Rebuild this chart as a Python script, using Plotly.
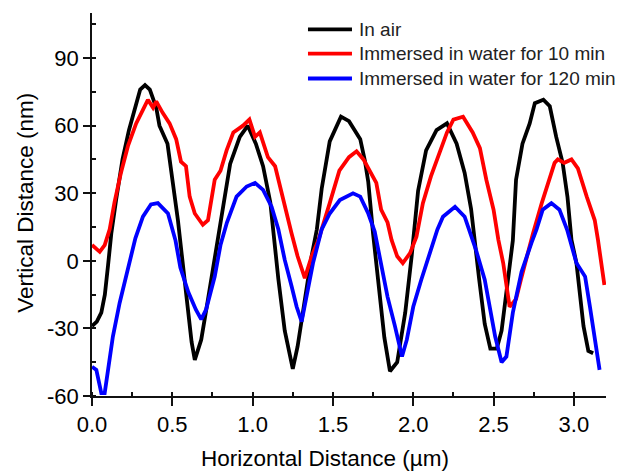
import plotly.graph_objects as go

# In air (black)
air_x = [0.00, 0.03, 0.058, 0.08, 0.10, 0.12, 0.15, 0.19, 0.23, 0.27, 0.30, 0.33, 0.36, 0.40, 0.42,
         0.47, 0.50, 0.535, 0.56, 0.59, 0.62, 0.64, 0.68, 0.72, 0.76, 0.80, 0.86, 0.92, 0.97, 1.02,
         1.065, 1.11, 1.13, 1.16, 1.20, 1.25, 1.28, 1.325, 1.367, 1.40, 1.43, 1.48, 1.55, 1.60, 1.67,
         1.70, 1.72, 1.75, 1.79, 1.82, 1.855, 1.90, 1.95, 1.99, 2.03, 2.08, 2.145, 2.21, 2.27, 2.32,
         2.36, 2.385, 2.41, 2.445, 2.48, 2.50, 2.52, 2.55, 2.59, 2.62, 2.64, 2.68, 2.725, 2.757, 2.81,
         2.85, 2.89, 2.93, 2.96, 2.985, 3.016, 3.04, 3.06, 3.09, 3.12]
air_y = [-29, -27, -23, -15, -2, 12, 27, 45, 58, 68, 76, 78, 76, 68, 60,
         52, 37, 18, 2, -17, -36, -44, -35, -18, -1, 18, 43, 55, 60, 52,
         42, 26, 12, -8, -31, -48, -38, -16, 2, 14, 32, 53, 64, 62, 54,
         44, 35, 12, -16, -34, -49, -45, -23, 2, 31, 49, 58, 61, 52, 39,
         23, 9, -8, -28, -39, -39, -39, -31, -8, 9, 36, 52, 61, 70, 71.5,
         68.6, 55, 43.5, 28.5, 9.3, -1, -16, -29, -40, -41]

# Immersed in water for 10 min (red)
w10_x = [0.0, 0.048, 0.079, 0.11, 0.14, 0.18, 0.224, 0.275, 0.317, 0.348, 0.38, 0.40, 0.44, 0.483,
         0.524, 0.554, 0.585, 0.608, 0.64, 0.69, 0.722, 0.764, 0.80, 0.838, 0.88, 0.94, 0.98, 1.015,
         1.045, 1.095, 1.14, 1.17, 1.21, 1.243, 1.28, 1.325, 1.367, 1.41, 1.48, 1.54, 1.60, 1.647,
         1.69, 1.73, 1.77, 1.80, 1.84, 1.865, 1.90, 1.935, 1.98, 2.02, 2.06, 2.11, 2.165, 2.21, 2.25,
         2.31, 2.37, 2.415, 2.455, 2.50, 2.53, 2.56, 2.60, 2.64, 2.67, 2.705, 2.745, 2.80, 2.85, 2.88,
         2.90, 2.94, 2.985, 3.025, 3.08, 3.13, 3.15, 3.17, 3.19]
w10_y = [7, 4, 7, 14, 26, 39, 51, 61, 67, 71.5, 68, 70.8, 65.7, 61,
         54, 44, 42, 28.5, 21, 16, 18, 36, 40, 49, 57, 60, 62.7, 55,
         57, 46, 42, 33, 21, 12, 2, -7.7, 2, 9.3, 25.6, 40, 46, 48.6,
         45, 40, 34.6, 22.7, 17, 9.3, 2, -1, 3.4, 10.7, 25.6, 37.5, 48, 57, 62.7,
         64, 57, 50, 36, 22.7, 9.3, -1, -20.4, -17, -8.4, 1.8, 12, 25.6, 36, 43.5,
         45, 43.5, 45, 41, 28.5, 18, 9.3, -1, -10.7]

# Immersed in water for 120 min (blue)
w120_x = [0.0, 0.027, 0.058, 0.079, 0.10, 0.13, 0.172, 0.224, 0.27, 0.317, 0.367, 0.41, 0.473, 0.52,
          0.55, 0.60, 0.647, 0.68, 0.71, 0.764, 0.80, 0.84, 0.90, 0.963, 1.015, 1.065, 1.118, 1.16,
          1.20, 1.243, 1.274, 1.305, 1.336, 1.376, 1.43, 1.48, 1.543, 1.625, 1.67, 1.72, 1.76, 1.80,
          1.84, 1.886, 1.93, 1.96, 2.0, 2.05, 2.11, 2.15, 2.185, 2.26, 2.32, 2.35, 2.39, 2.445, 2.51,
          2.55, 2.58, 2.62, 2.674, 2.736, 2.767, 2.806, 2.86, 2.91, 2.958, 3.016, 3.07, 3.10, 3.13, 3.16]
w120_y = [-47, -48.4, -58.7, -58.7, -48.4, -33.6, -18.7, -2.6, 10, 19.6, 25, 25.6, 21, 9,
          -3, -14, -21.7, -26, -21.7, -7, 7, 17, 28.5, 33, 34.6, 31.5, 24, 14,
          0.4, -11.4, -20.4, -27, -16, -1, 14, 21, 27, 30, 28.5, 21, 13, -1,
          -16, -29, -42.5, -35, -20.4, -8.4, 5, 13.8, 19.6, 24, 19.6, 13.8, 5, -8.4, -33.6,
          -45, -42.5, -23, -5, 8, 13.8, 22.7, 25.6, 22.7, 13.8, -1, -7, -20.4, -35, -48.4]

names = ["In air", "Immersed in water for 10 min", "Immersed in water for 120 min"]
colors = ["#000000", "#ff0000", "#0000ff"]
series = [(air_x, air_y), (w10_x, w10_y), (w120_x, w120_y)]

x_ticks = [0.0, 0.5, 1.0, 1.5, 2.0, 2.5, 3.0]
x_ticklabels = ["0.0", "0.5", "1.0", "1.5", "2.0", "2.5", "3.0"]
y_ticks = [-60, -30, 0, 30, 60, 90]
y_ticklabels = ["-60", "-30", "0", "30", "60", "90"]

FONT = "Arial, Liberation Sans, sans-serif"
LINE_W = 3.8

fig = go.Figure()
for (xs, ys), n, c in zip(series, names, colors):
    fig.add_trace(go.Scatter(x=xs, y=ys, mode="lines", name=n, showlegend=False,
                             line=dict(color=c, width=LINE_W)))

# Legend drawn as key lines + labels in paper coordinates
legend_rows_y = [0.957, 0.894, 0.829]
key_x0, key_x1, label_x = 0.4202, 0.5058, 0.5156
shapes = []
annotations = []
for n, c, ry in zip(names, colors, legend_rows_y):
    shapes.append(dict(type="line", xref="paper", yref="paper", x0=key_x0, x1=key_x1,
                       y0=ry, y1=ry, line=dict(color=c, width=LINE_W)))
    annotations.append(dict(text=n, xref="paper", yref="paper", x=label_x, y=ry,
                            xanchor="left", yanchor="middle", showarrow=False,
                            font=dict(size=19, color="#222")))

annotations += [
    dict(text="Horizontal Distance (µm)", xref="paper", yref="paper", x=0.453, y=-0.162,
         xanchor="center", yanchor="middle", showarrow=False, font=dict(size=22.5)),
    dict(text="Vertical Distance (nm)", xref="paper", yref="paper", x=-0.130, y=0.505,
         xanchor="center", yanchor="middle", showarrow=False, textangle=-90,
         font=dict(size=22.5)),
]

fig.update_layout(
    width=627, height=471,
    margin=dict(l=92, r=21, t=13, b=75),
    plot_bgcolor="white", paper_bgcolor="white",
    font=dict(family=FONT, color="black"),
    showlegend=False,
    xaxis=dict(range=[0, 3.2], tickvals=x_ticks, ticktext=x_ticklabels,
               showgrid=False, zeroline=False, showline=True, linecolor="#111", linewidth=1.5,
               ticks="outside", ticklen=8, tickwidth=1.5, tickcolor="#111",
               tickfont=dict(size=22), automargin=False,
               minor=dict(ticks="inside", ticklen=4, tickwidth=1.5, tickcolor="#111", dtick=0.25,
                          tick0=0, showgrid=False)),
    yaxis=dict(range=[-60, 110], tickvals=y_ticks, ticktext=y_ticklabels,
               showgrid=False, zeroline=False, showline=True, linecolor="#111", linewidth=1.5,
               ticks="outside", ticklen=7, tickwidth=1.5, tickcolor="#111",
               tickfont=dict(size=22), automargin=False,
               minor=dict(ticks="inside", ticklen=4, tickwidth=1.5, tickcolor="#111", dtick=15,
                          tick0=-60, showgrid=False)),
    shapes=shapes,
    annotations=annotations,
)

fig.write_html("out.html")
